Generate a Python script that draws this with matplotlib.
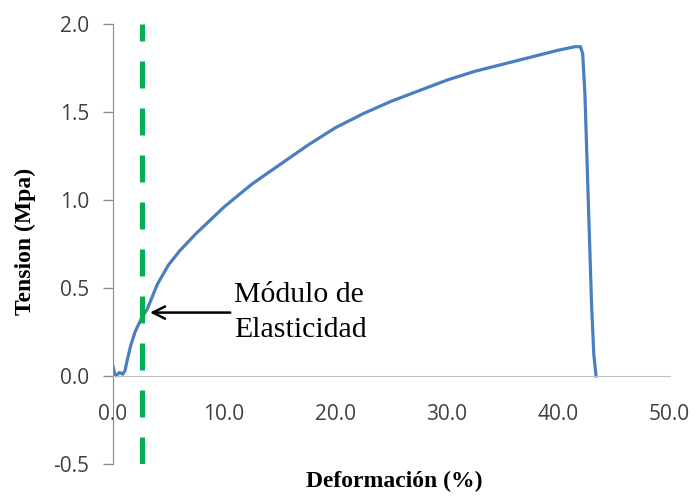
import matplotlib.pyplot as plt
import matplotlib.ticker as mticker

# deformacion (%) y tension (MPa)
deformacion = [0.0, 0.15, 0.3, 0.6, 0.9, 1.1, 1.3, 1.6, 2.0, 2.6, 3.1, 4.0, 5.0, 6.0,
               7.5, 10.0, 12.5, 15.0, 17.5, 20.0, 22.5, 25.0, 27.5, 30.0, 32.5, 35.0,
               37.5, 40.0, 41.5, 42.0, 42.2, 42.4, 42.6, 42.8, 43.0, 43.2, 43.4]
tension = [0.06, 0.02, 0.0, 0.02, 0.01, 0.03, 0.09, 0.17, 0.25, 0.33, 0.38, 0.52, 0.63,
           0.71, 0.81, 0.96, 1.09, 1.20, 1.31, 1.41, 1.49, 1.56, 1.62, 1.68, 1.73, 1.77,
           1.81, 1.85, 1.87, 1.87, 1.83, 1.60, 1.20, 0.80, 0.40, 0.12, 0.0]

modulo_x = 2.6
xticks = [0, 10, 20, 30, 40, 50]
yticks = [-0.5, 0.0, 0.5, 1.0, 1.5, 2.0]

fig = plt.figure(figsize=(6.96, 4.96), dpi=100)
ax = fig.add_axes([0.162, 0.0645, 0.80, 0.8875])

ax.plot(deformacion, tension, color='#4a7ebf', lw=2.3, solid_joinstyle='round')
ax.axvline(modulo_x, color='#00b050', lw=3.6, dashes=(5.4, 4))

ax.annotate('', xy=(3.1, 0.36), xytext=(10.8, 0.36),
            arrowprops=dict(arrowstyle='->', color='black', lw=1.8, mutation_scale=22))
ax.text(10.9, 0.36, 'Módulo de\nElasticidad', family='Liberation Serif', fontsize=21.5,
        va='center', ha='left', linespacing=1.45)

ax.set_xlim(0, 50)
ax.set_ylim(-0.5, 2.0)
ax.set_xticks(xticks)
ax.set_yticks(yticks)
ax.xaxis.set_major_formatter(mticker.FormatStrFormatter('%.1f'))
ax.yaxis.set_major_formatter(mticker.FormatStrFormatter('%.1f'))

for s in ['top', 'right']:
    ax.spines[s].set_visible(False)
ax.spines['bottom'].set_position(('data', 0))
ax.spines['bottom'].set_color('#bfbfbf')
ax.spines['left'].set_color('#8c8c8c')

ax.tick_params(axis='x', length=0, pad=20, labelsize=15, labelcolor='#404040')
ax.tick_params(axis='y', length=7, width=1, color='#8c8c8c', pad=10,
               labelsize=15, labelcolor='#404040')
for lab in ax.get_xticklabels() + ax.get_yticklabels():
    lab.set_family('Open Sans')

fig.text(0.037, 0.514, 'Tension (Mpa)', rotation=90, family='Liberation Serif',
         fontweight='bold', fontsize=17, ha='center', va='center')
fig.text(0.566, 0.03, 'Deformación (%)', family='Liberation Serif',
         fontweight='bold', fontsize=17, ha='center', va='center')

fig.savefig('out.png', dpi=100)
